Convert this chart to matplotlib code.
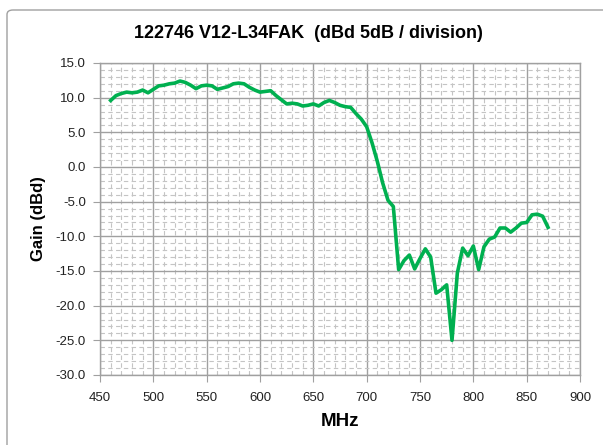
import matplotlib
matplotlib.use("Agg")
import matplotlib.pyplot as plt
from matplotlib.patches import FancyBboxPatch
from matplotlib.ticker import MultipleLocator, FormatStrFormatter

freq_mhz = list(range(460, 875, 5))
gain_dbd = [
    9.6, 10.3, 10.6, 10.8, 10.7, 10.8, 11.1, 10.7, 11.2, 11.7,
    11.8, 12.0, 12.1, 12.4, 12.2, 11.8, 11.3, 11.7, 11.8, 11.7,
    11.2, 11.4, 11.6, 12.0, 12.1, 12.0, 11.5, 11.1, 10.8, 10.9,
    11.0, 10.3, 9.7, 9.1, 9.2, 9.1, 8.8, 8.9, 9.1, 8.8,
    9.3, 9.6, 9.3, 8.9, 8.7, 8.6, 7.7, 6.9, 5.8, 3.5,
    0.8, -2.3, -4.8, -5.7, -14.8, -13.5, -12.7, -14.7, -13.2, -11.8,
    -13.0, -18.2, -17.7, -17.0, -25.0, -15.3, -11.7, -12.8, -11.4, -14.8,
    -11.5, -10.4, -10.1, -8.8, -8.8, -9.4, -8.8, -8.1, -8.0, -6.9,
    -6.8, -7.1, -8.7,
]

title = "122746 V12-L34FAK  (dBd 5dB / division)"
x_label = "MHz"
y_label = "Gain (dBd)"

plt.rcParams['font.family'] = ['Liberation Sans', 'DejaVu Sans']

fig = plt.figure(figsize=(6.03, 4.45), dpi=100)
fig.patch.set_facecolor('white')

# chart area border
border = FancyBboxPatch((7 / 603, -0.05), 1.2, 1.05 - 10 / 445,
                        boxstyle="round,pad=0,rounding_size=0.01",
                        transform=fig.transFigure, fill=False,
                        edgecolor='#a0a0a0', linewidth=1.0)
fig.patches.append(border)

ax = fig.add_axes([100 / 603, 1 - 375 / 445, 480 / 603, 312 / 445])
ax.plot(freq_mhz, gain_dbd, color='#00B050', linewidth=2.6, solid_joinstyle='round', zorder=3)

ax.set_xlim(450, 900)
ax.set_ylim(-30, 15)
ax.xaxis.set_major_locator(MultipleLocator(50))
ax.xaxis.set_minor_locator(MultipleLocator(10))
ax.yaxis.set_major_locator(MultipleLocator(5))
ax.yaxis.set_minor_locator(MultipleLocator(1))
ax.yaxis.set_major_formatter(FormatStrFormatter('%.1f'))

ax.grid(which='major', color='#a0a0a0', linewidth=1.0, linestyle='-', zorder=1)
ax.grid(which='minor', color='#c4c4c4', linewidth=0.8, linestyle=(0, (4, 3)), zorder=0)

for s in ax.spines.values():
    s.set_color('#a0a0a0')
    s.set_linewidth(1.0)

ax.tick_params(which='major', direction='out', length=5, color='#a0a0a0',
               labelsize=9.5, labelcolor='#222222', pad=5)
ax.tick_params(axis='x', which='major', pad=7)
ax.tick_params(which='minor', length=0)

ax.set_xlabel(x_label, fontsize=13.5, fontweight='bold', labelpad=7)
ax.set_ylabel(y_label, fontsize=12, fontweight='bold', labelpad=7)
fig.text(308 / 603, 1 - 33 / 445, title, ha='center', va='center',
         fontsize=13, fontweight='bold')

fig.savefig('out.png', dpi=100, facecolor='white')
